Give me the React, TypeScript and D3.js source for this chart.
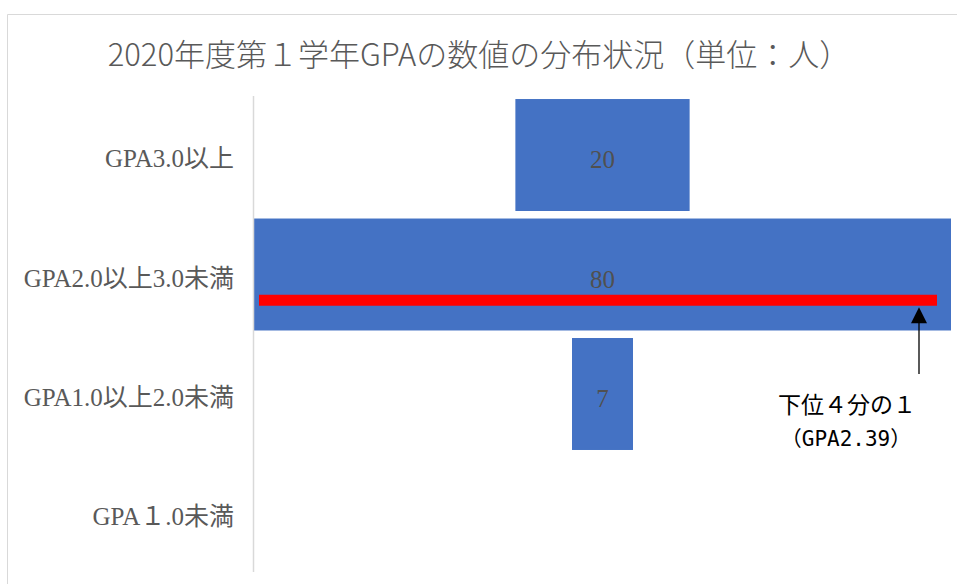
import React from "react";
import * as d3 from "d3";

const categories = ["GPA3.0以上", "GPA2.0以上3.0未満", "GPA1.0以上2.0未満", "GPA１.0未満"];
const counts = [20, 80, 7, 0];
const title = "2020年度第１学年GPAの数値の分布状況（単位：人）";
const quartileLabel = ["下位４分の１", "（GPA2.39）"];
const quartileCategory = "GPA2.0以上3.0未満";

const W = 957;
const H = 584;
const CX = 602.5;
const HALF = 348.5;
const SERIF = "'Liberation Serif', 'DejaVu Serif', 'Noto Sans CJK JP', serif";
const SANS = "'Noto Sans CJK JP', 'Noto Sans', sans-serif";
const MONO = "'DejaVu Sans Mono', 'Liberation Mono', 'Noto Sans CJK JP', monospace";

export default function App() {
  const y = d3.scaleBand<string>().domain(categories).range([91.5, 577]).padding(0.063);
  const half = d3.scaleLinear().domain([0, d3.max(counts) as number]).range([0, HALF]);

  const qb = y(quartileCategory) as number;
  const bw = y.bandwidth();
  const redY = qb + bw * 0.73;
  const redX0 = CX - half(80) + 5;
  const redX1 = CX + half(80) - 14;
  const arrowX = 919;
  const tipY = redY + 7;

  return (
    <svg width={W} height={H} style={{ position: "absolute", left: 0, top: 0 }}>
      <rect x={0} y={0} width={W} height={H} fill="#fff" />
      <path d={`M7.5,${H} V14.5 H${W}`} fill="none" stroke="#d9d9d9" strokeWidth={1} />
      <text x={479} y={66} textAnchor="middle" fontFamily={SANS} fontSize={31} fontWeight={300} fill="#595959">
        {title}
      </text>
      {categories.map((c, i) => {
        const yy = y(c) as number;
        const w = half(counts[i]);
        return (
          <g key={c}>
            {counts[i] > 0 && (
              <rect x={CX - w} y={yy} width={w * 2} height={bw} fill="#4472C4" />
            )}
            <text
              x={234}
              y={yy + bw / 2 + 12}
              textAnchor="end"
              fontFamily={SERIF}
              fontSize={25}
              fill="#595959"
            >
              {c}
            </text>
            {counts[i] > 0 && (
              <text
                x={CX}
                y={yy + bw / 2 + 13}
                textAnchor="middle"
                fontFamily={SERIF}
                fontSize={25}
                fill="#505050"
              >
                {counts[i]}
              </text>
            )}
          </g>
        );
      })}
      <line x1={253.5} x2={253.5} y1={96} y2={572} stroke="#d9d9d9" strokeWidth={1.5} />
      <line x1={redX0} x2={redX1} y1={redY} y2={redY} stroke="#FF0000" strokeWidth={11} />
      <line x1={arrowX} x2={arrowX} y1={tipY + 10} y2={374} stroke="#000" strokeWidth={1.3} />
      <path d={`M${arrowX},${tipY} L${arrowX - 8},${tipY + 16} L${arrowX + 8},${tipY + 16} Z`} fill="#000" />
      <text x={847} y={413} textAnchor="middle" fontFamily={SANS} fontSize={23} fill="#000">
        {quartileLabel[0]}
      </text>
      <text x={846} y={446} textAnchor="middle" fontFamily={MONO} fontSize={21} fill="#000">
        {quartileLabel[1]}
      </text>
    </svg>
  );
}
